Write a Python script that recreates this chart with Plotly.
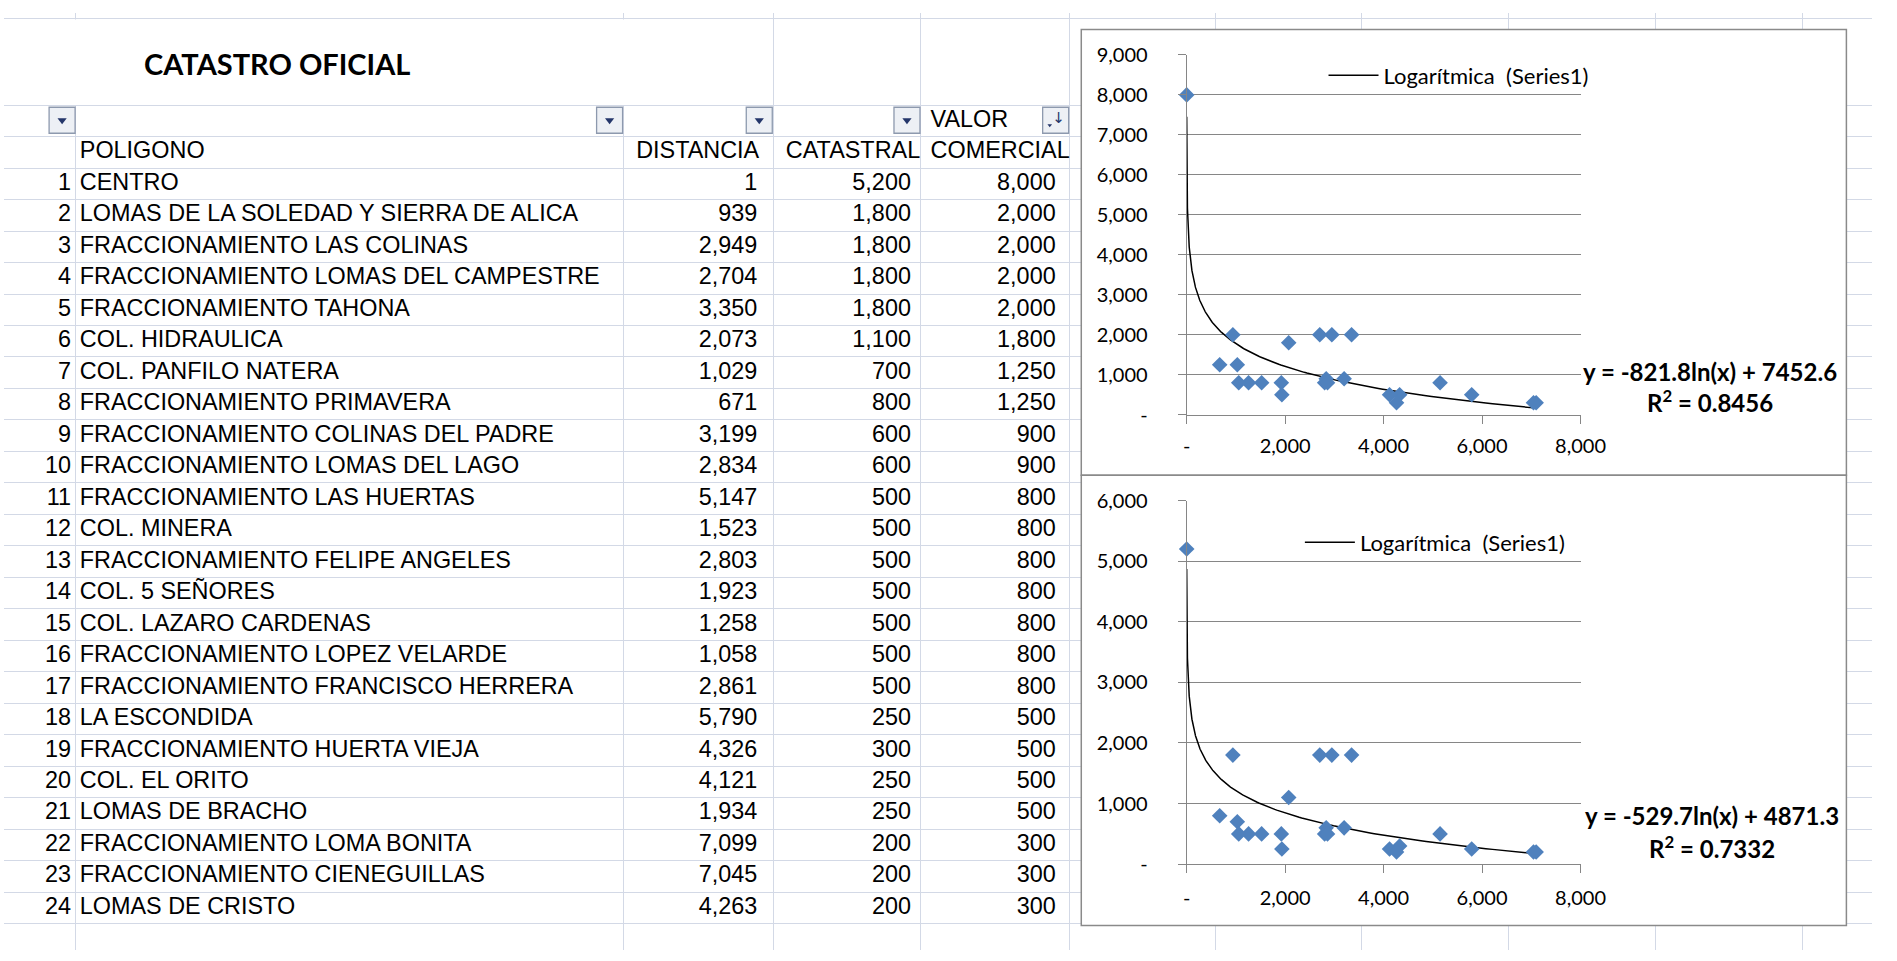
import numpy as np
import plotly.graph_objects as go

W, H = 1897, 961

# ---------------- data ----------------
title = "CATASTRO OFICIAL"
headers = ["POLIGONO", "DISTANCIA", "CATASTRAL", "COMERCIAL"]
header_top = "VALOR"
row_num = list(range(1, 25))
poligono = [
    "CENTRO", "LOMAS DE LA SOLEDAD Y SIERRA DE ALICA", "FRACCIONAMIENTO LAS COLINAS",
    "FRACCIONAMIENTO LOMAS DEL CAMPESTRE", "FRACCIONAMIENTO TAHONA", "COL. HIDRAULICA",
    "COL. PANFILO NATERA", "FRACCIONAMIENTO PRIMAVERA", "FRACCIONAMIENTO COLINAS DEL PADRE",
    "FRACCIONAMIENTO LOMAS DEL LAGO", "FRACCIONAMIENTO LAS HUERTAS", "COL. MINERA",
    "FRACCIONAMIENTO FELIPE ANGELES", "COL. 5 SEÑORES", "COL. LAZARO CARDENAS",
    "FRACCIONAMIENTO LOPEZ VELARDE", "FRACCIONAMIENTO FRANCISCO HERRERA", "LA ESCONDIDA",
    "FRACCIONAMIENTO HUERTA VIEJA", "COL. EL ORITO", "LOMAS DE BRACHO",
    "FRACCIONAMIENTO LOMA BONITA", "FRACCIONAMIENTO CIENEGUILLAS", "LOMAS DE CRISTO",
]
distancia = [1, 939, 2949, 2704, 3350, 2073, 1029, 671, 3199, 2834, 5147, 1523,
             2803, 1923, 1258, 1058, 2861, 5790, 4326, 4121, 1934, 7099, 7045, 4263]
catastral = [5200, 1800, 1800, 1800, 1800, 1100, 700, 800, 600, 600, 500, 500,
             500, 500, 500, 500, 500, 250, 300, 250, 250, 200, 200, 200]
comercial = [8000, 2000, 2000, 2000, 2000, 1800, 1250, 1250, 900, 900, 800, 800,
             800, 800, 800, 800, 800, 500, 500, 500, 500, 300, 300, 300]

x_ticks = [0, 2000, 4000, 6000, 8000]
x_ticktext = ["-", "2,000", "4,000", "6,000", "8,000"]
y_ticks_top = [0, 1000, 2000, 3000, 4000, 5000, 6000, 7000, 8000, 9000]
y_ticktext_top = ["-", "1,000", "2,000", "3,000", "4,000", "5,000", "6,000", "7,000", "8,000", "9,000"]
y_ticks_bot = [0, 1000, 2000, 3000, 4000, 5000, 6000]
y_ticktext_bot = ["-", "1,000", "2,000", "3,000", "4,000", "5,000", "6,000"]
legend_name = "Logarítmica\u00a0\u00a0(Series1)"
eq_top = ["y = -821.8ln(x) + 7452.6", "R<sup>2</sup> = 0.8456"]
eq_bot = ["y = -529.7ln(x) + 4871.3", "R<sup>2</sup> = 0.7332"]

# ---------------- layout helpers (sheet geometry, pixels) ----------------
ROW0, RH = 159.0, 32.3          # top of first data row, row height


def u(px):
    """pixel y -> sheet row units"""
    return (px - ROW0) / RH


COL_LINES = [73, 629, 781, 931, 1082, 1230, 1379, 1528, 1677, 1826]
GRID = "#D3D9E6"
TFONT = dict(family="Liberation Sans, Arial", size=23.4, color="#000000")
CFONT = "Lato"
AX = "#868686"
BLUE = "#4F81BD"

fig = go.Figure()

rows_y = [k - 0.5 for k in row_num]


def txt(x, y, text, pos, font=TFONT):
    fig.add_trace(go.Scatter(x=x, y=y, text=text, mode="text", textposition=pos,
                             textfont=font, showlegend=False, hoverinfo="skip",
                             xaxis="x", yaxis="y", cliponaxis=False))


# table text
txt([68] * 24, rows_y, [str(k) for k in row_num], "middle left")
txt([77] * 24, rows_y, poligono, "middle right")
txt([765] * 24, rows_y, [f"{v:,}" for v in distancia], "middle left")
txt([921] * 24, rows_y, [f"{v:,}" for v in catastral], "middle left")
txt([1068] * 24, rows_y, [f"{v:,}" for v in comercial], "middle left")
txt([77, 642, 794, 941], [-0.5] * 4, headers, "middle right")
txt([941], [-1.5], [header_top], "middle right")

# filter buttons
btn_x = [59, 615, 767, 917, 1068]
fig.add_trace(go.Scatter(x=btn_x, y=[u(110)] * 5, mode="markers", showlegend=False,
                         hoverinfo="skip", xaxis="x", yaxis="y", cliponaxis=False,
                         marker=dict(symbol="square", size=26, color="#EDF0F5",
                                     line=dict(color="#8D99AE", width=1.3))))
fig.add_trace(go.Scatter(x=btn_x[:4], y=[u(110)] * 4, mode="markers", showlegend=False,
                         hoverinfo="skip", xaxis="x", yaxis="y", cliponaxis=False,
                         marker=dict(symbol="triangle-down", size=8, color="#24366A")))
fig.add_trace(go.Scatter(x=[1062], y=[u(115)], mode="markers", showlegend=False,
                         hoverinfo="skip", xaxis="x", yaxis="y", cliponaxis=False,
                         marker=dict(symbol="triangle-down", size=4, color="#24366A")))
txt([1071], [u(109)], ["↓"], "middle center",
    dict(family="DejaVu Sans", size=15, color="#24366A"))

# title
fig.add_annotation(x=277, y=u(52), xref="x", yref="y", text=f"<b>{title}</b>",
                   showarrow=False, font=dict(family=CFONT, size=29, color="#000000"))

# white cover of merged title area & chart boxes (above sheet grid)
fig.add_shape(type="rect", xref="x", yref="y", layer="between",
              x0=-2, x1=780.3, y0=u(6.7), y1=u(94.3), fillcolor="white", line_width=0)
for top, bot in [(17, 474), (474, 936)]:
    fig.add_shape(type="rect", xref="x", yref="y", layer="between",
                  x0=1094, x1=1871, y0=u(top), y1=u(bot), fillcolor="white",
                  line=dict(color="#8A8A8A", width=1.5))


# ---------------- charts ----------------
def log_fit(x, y):
    a, b = np.polyfit(np.log(np.asarray(x, float)), np.asarray(y, float), 1)
    return a, b


def add_chart(xs, ys, xa, ya, legend):
    a, b = log_fit(xs, ys)
    xc = np.geomspace(min(xs), max(xs), 400)
    fig.add_trace(go.Scatter(x=xc, y=a * np.log(xc) + b, mode="lines", name=legend_name,
                             line=dict(color="#000000", width=1.5), xaxis=xa, yaxis=ya,
                             legend=legend, showlegend=True, hoverinfo="skip", cliponaxis=False))
    fig.add_trace(go.Scatter(x=xs, y=ys, mode="markers", showlegend=False, xaxis=xa, yaxis=ya,
                             marker=dict(symbol="diamond", size=12, color=BLUE), cliponaxis=False))


add_chart(distancia, comercial, "x2", "y2", "legend")
add_chart(distancia, catastral, "x3", "y3", "legend2")

xdom = [1201 / W, 1601 / W]
tickfont = dict(family=CFONT, size=20, color="#000000")
common_x = dict(range=[0, 8000], tickvals=x_ticks, ticktext=x_ticktext, showgrid=False,
                zeroline=False, showline=True, linecolor=AX, linewidth=1, ticks="outside",
                ticklen=8, tickcolor=AX, tickwidth=1, tickfont=tickfont, domain=xdom,
                fixedrange=True)
common_y = dict(showgrid=True, gridcolor=AX, gridwidth=1, zeroline=False, showline=True,
                linecolor=AX, linewidth=1, ticks="outside", ticklen=8, tickcolor=AX,
                tickwidth=1, tickfont=tickfont, ticklabelstandoff=26, fixedrange=True)

legfont = dict(family=CFONT, size=22, color="#000000")
fig.update_layout(
    width=W, height=H, margin=dict(l=0, r=0, t=0, b=0),
    paper_bgcolor="white", plot_bgcolor="rgba(0,0,0,0)", hovermode=False,
    xaxis=dict(range=[0, W], domain=[0, 1], tickvals=COL_LINES, showgrid=True, gridcolor=GRID,
               gridwidth=1, showticklabels=False, ticks="", zeroline=False, showline=False,
               fixedrange=True),
    yaxis=dict(range=[u(H), u(0)], domain=[0, 1], tickvals=[u(6), -2, -1] + list(range(0, 26)),
               showgrid=True, gridcolor=GRID, gridwidth=1, showticklabels=False, ticks="",
               zeroline=False, showline=False, fixedrange=True),
    xaxis2=dict(anchor="y2", ticklabelstandoff=5, **common_x),
    yaxis2=dict(anchor="x2", domain=[1 - 412 / H, 1 - 43 / H], range=[0, 9000],
                tickvals=y_ticks_top, ticktext=y_ticktext_top, **common_y),
    xaxis3=dict(anchor="y3", ticklabelstandoff=8, **common_x),
    yaxis3=dict(anchor="x3", domain=[1 - 873 / H, 1 - 500 / H], range=[0, 6000],
                tickvals=y_ticks_bot, ticktext=y_ticktext_bot, **common_y),
    legend=dict(x=1340 / W, y=1 - 64 / H, xanchor="left", yanchor="middle", itemwidth=50,
                bgcolor="rgba(0,0,0,0)", font=legfont),
    legend2=dict(x=1316 / W, y=1 - 543 / H, xanchor="left", yanchor="middle", itemwidth=50,
                 bgcolor="rgba(0,0,0,0)", font=legfont),
)

eqfont = dict(family=CFONT, size=24, color="#000000")
for (ex, ey1, ey2), lines in [((1732, 368, 398), eq_top), ((1735, 823, 855), eq_bot)]:
    fig.add_annotation(x=ex / W, y=1 - ey1 / H, xref="paper", yref="paper", showarrow=False,
                       xanchor="center", yanchor="middle",
                       text=f"<b>{lines[0]}</b>", font=eqfont)
    fig.add_annotation(x=ex / W, y=1 - ey2 / H, xref="paper", yref="paper", showarrow=False,
                       xanchor="center", yanchor="middle",
                       text=f"<b>{lines[1]}</b>", font=eqfont)

fig.write_html("out.html", config={"displayModeBar": False},
               post_script="document.body.style.margin='0';")
